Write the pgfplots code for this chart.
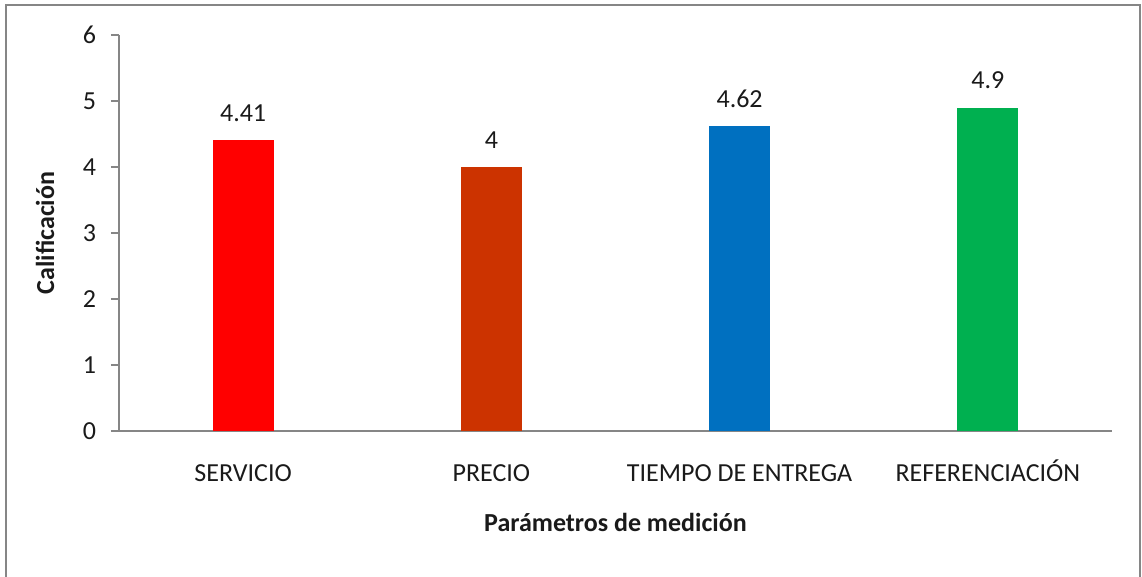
\documentclass[border=0pt]{standalone}
\usepackage{pgfplots}
\pgfplotsset{compat=1.18}
\usepackage{fontspec}
\setmainfont{Carlito}

\definecolor{barred}{HTML}{FF0000}
\definecolor{barbrick}{HTML}{CC3300}
\definecolor{barblue}{HTML}{0070C0}
\definecolor{bargreen}{HTML}{00B050}
\definecolor{axisgray}{HTML}{868686}
\definecolor{txt}{HTML}{1A1A1A}

\begin{document}
\begin{tikzpicture}
% page area and frame of the chart
\path[use as bounding box] (0pt,0pt) rectangle (571pt,288.5pt);
\draw[axisgray, line width=1pt] (3pt,-20pt) rectangle (570pt,286pt);

\begin{axis}[
  at={(59.5pt,73pt)}, anchor=south west,
  scale only axis, width=496.5pt, height=198pt,
  xmin=-0.5, xmax=3.5, ymin=0, ymax=6,
  axis x line*=bottom, axis y line*=left,
  axis line style={axisgray, line width=0.6pt},
  ybar, bar width=30.5pt,
  xtick={0,1,2,3},
  xticklabels={SERVICIO, PRECIO, TIEMPO DE ENTREGA, REFERENCIACIÓN},
  xtick style={draw=none},
  ytick={0,1,2,3,4,5,6},
  ytick style={axisgray, line width=0.6pt},
  tick align=outside, major tick length=4pt,
  /pgf/number format/assume math mode=true,
  tick label style={font=\fontsize{13}{15}\selectfont, text=txt},
  xticklabel style={anchor=base, yshift=-21.5pt},
  yticklabel style={anchor=east, xshift=-4pt},
  xlabel={\bfseries Parámetros de medición},
  ylabel={\bfseries Calificación},
  label style={font=\fontsize{13}{15}\selectfont, text=txt},
  xlabel style={at={(rel axis cs:0.5,0)}, anchor=center, yshift=-45.5pt},
  ylabel style={at={(rel axis cs:0,0.5)}, anchor=center, rotate=0, yshift=37pt},
  nodes near coords,
  every node near coord/.append style={font=\fontsize{13}{15}\selectfont, text=txt, anchor=center, yshift=13.5pt},
  clip=false,
]
\addplot[bar shift=0pt, fill=barred, draw=none] coordinates {(0,4.41)};
\addplot[bar shift=0pt, fill=barbrick, draw=none] coordinates {(1,4)};
\addplot[bar shift=0pt, fill=barblue, draw=none] coordinates {(2,4.62)};
\addplot[bar shift=0pt, fill=bargreen, draw=none] coordinates {(3,4.9)};
\end{axis}
\end{tikzpicture}
\end{document}
